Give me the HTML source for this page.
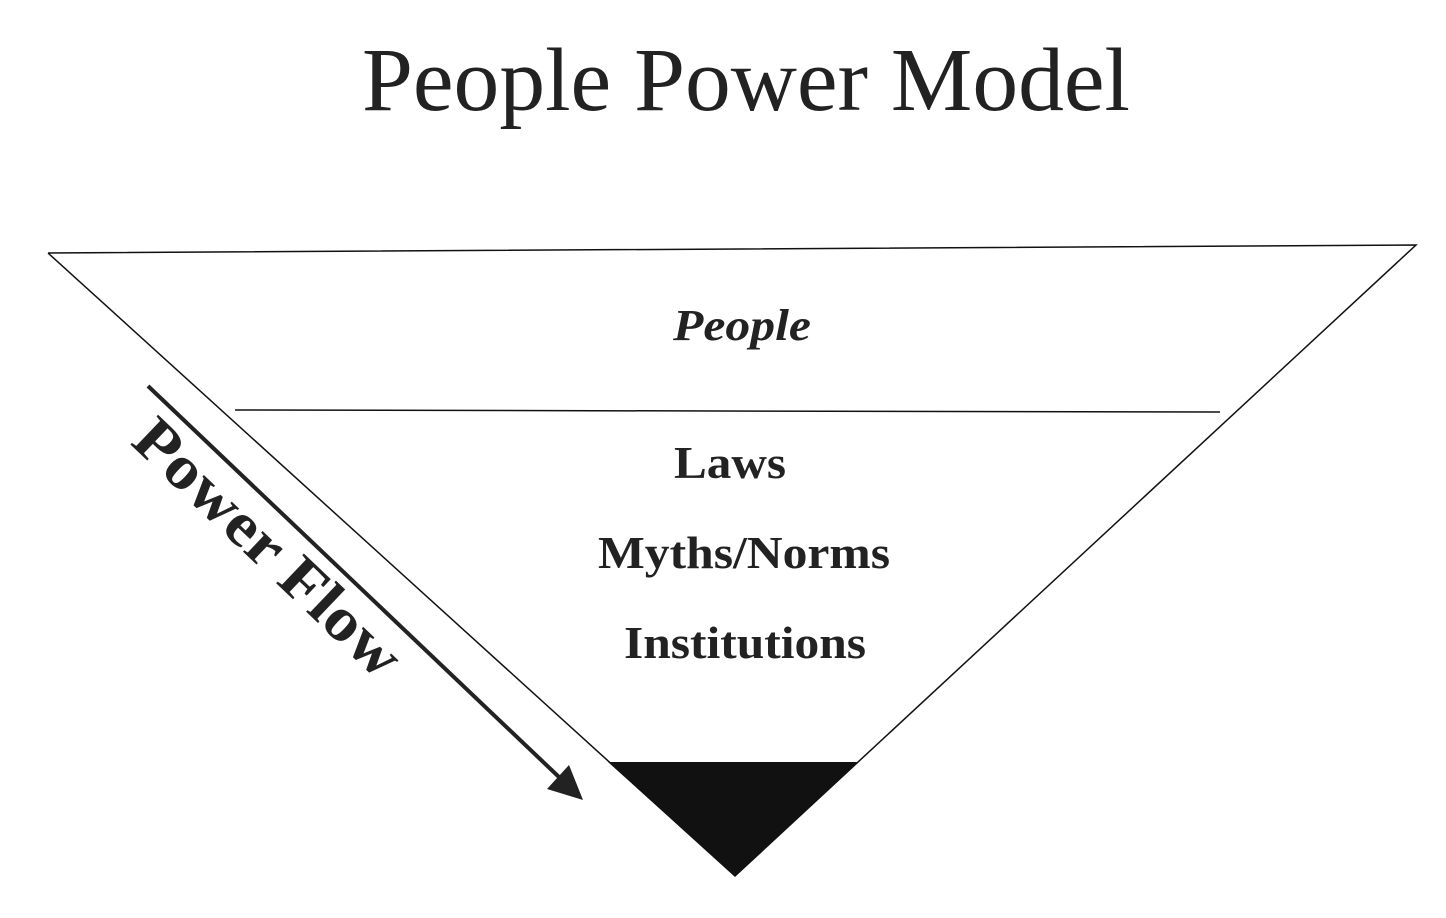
<!DOCTYPE html>
<html><head><style>html,body{margin:0;padding:0;background:#fff}svg{display:block}</style></head>
<body>
<svg width="1446" height="918" viewBox="0 0 1446 918" xmlns="http://www.w3.org/2000/svg" font-family="Liberation Serif, serif" fill="#222">
<text x="746" y="110" font-size="90" text-anchor="middle" textLength="768" lengthAdjust="spacingAndGlyphs">People Power Model</text>
<polyline points="48,253 1416,245 735,876 48,253" fill="none" stroke="#111" stroke-width="1.5"/>
<line x1="235" y1="410" x2="1220" y2="412" stroke="#111" stroke-width="1.5"/>
<polygon points="608,762 858,762 735,876" fill="#111"/>
<text x="742" y="340" font-size="44" font-weight="bold" font-style="italic" text-anchor="middle" textLength="138" lengthAdjust="spacingAndGlyphs">People</text>
<text x="730" y="478" font-size="46" font-weight="bold" text-anchor="middle" textLength="112" lengthAdjust="spacingAndGlyphs">Laws</text>
<text x="744" y="568" font-size="46" font-weight="bold" text-anchor="middle" textLength="292" lengthAdjust="spacingAndGlyphs">Myths/Norms</text>
<text x="745" y="658" font-size="46" font-weight="bold" text-anchor="middle" textLength="242" lengthAdjust="spacingAndGlyphs">Institutions</text>
<line x1="148" y1="386" x2="560" y2="778" stroke="#222" stroke-width="4"/>
<polygon points="583,800 547,789 569,765" fill="#222"/>
<text transform="translate(264,552) rotate(43.6)" font-size="62" font-weight="bold" text-anchor="middle" dominant-baseline="middle" textLength="345" lengthAdjust="spacingAndGlyphs">Power Flow</text>
</svg>
</body></html>
